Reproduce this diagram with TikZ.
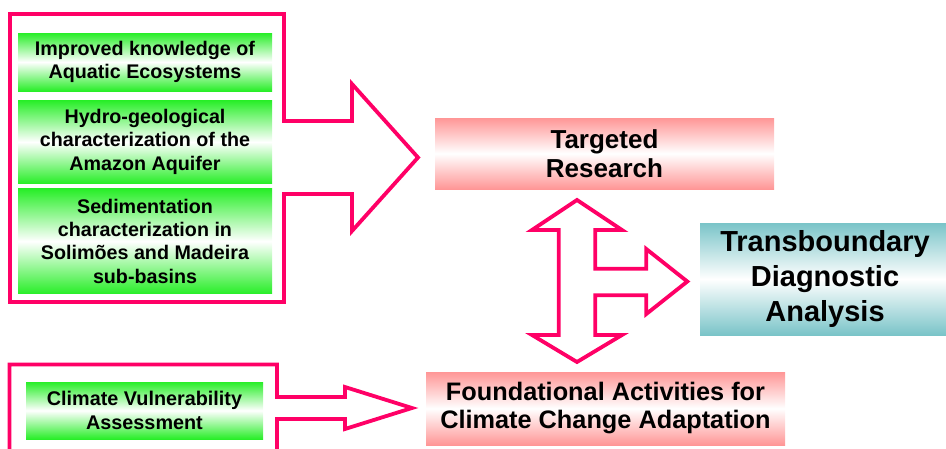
\documentclass[tikz,border=0pt]{standalone}
\usepackage{fontspec}
\setmainfont{Liberation Sans}
\usepackage{xcolor}
\usepackage{tikz}
\usetikzlibrary{positioning}

\definecolor{frameRed}{RGB}{255,0,102}
\definecolor{boxGreen}{RGB}{40,238,40}
\definecolor{boxPink}{RGB}{255,150,150}
\definecolor{boxTeal}{RGB}{122,196,200}

\begin{document}
\begin{tikzpicture}[x=1pt, y=-1pt,
  srcbox/.style={inner sep=0pt, minimum width=254pt, align=center,
    top color=boxGreen, bottom color=boxGreen, middle color=white,
    font=\bfseries\fontsize{19.7}{23.3}\selectfont},
  goalbox/.style={inner sep=0pt, align=center,
    top color=boxPink, bottom color=boxPink, middle color=white},
  tdabox/.style={inner sep=0pt, align=center,
    top color=boxTeal, bottom color=boxTeal, middle color=white,
    font=\bfseries\fontsize{29}{35}\selectfont},
  outl/.style={draw=frameRed, line width=3.8pt, miter limit=20},
]
  \useasboundingbox (0,0) rectangle (946,448);

  % research inputs
  \node[srcbox, minimum height=58pt] (aquatic) at (145,62)
    {Improved knowledge of\\Aquatic Ecosystems};
  \node[srcbox, minimum height=83pt, below=9pt of aquatic] (aquifer)
    {Hydro-geological\\characterization of the\\Amazon Aquifer};
  \node[srcbox, minimum height=105pt, below=5pt of aquifer] (sediment)
    {Sedimentation\\characterization in\\Solimões and Madeira\\sub-basins};

  \node[srcbox, minimum width=237pt, minimum height=57pt,
    font=\bfseries\fontsize{19.8}{24}\selectfont] (climvuln) at (144.5,410.5)
    {Climate Vulnerability\\Assessment};

  % outcomes
  \node[goalbox, minimum width=339pt, minimum height=71pt,
    font=\bfseries\fontsize{26}{29}\selectfont] (research) at (604.5,153.5)
    {Targeted\\Research};
  \node[goalbox, minimum width=359pt, minimum height=73pt,
    font=\bfseries\fontsize{25.3}{28}\selectfont] (found) at (605.5,408.5)
    {Foundational Activities for\\Climate Change Adaptation};
  \node[tdabox, minimum width=250pt, minimum height=112pt] (tda) at (825,279)
    {Transboundary\\Diagnostic\\Analysis};

  % block arrows
  \draw[outl] (10,14) -- (284,14) -- (284,121) -- (352,121) -- (352,84)
    -- (418,157.5) -- (352,231) -- (352,194) -- (284,194) -- (284,302)
    -- (10,302) -- cycle;
  \draw[outl] (9.5,470) -- (9.5,364.5) -- (277,364.5) -- (277,397)
    -- (345,397) -- (345,387) -- (412,408) -- (345,429) -- (345,419)
    -- (277,419) -- (277,470);
  \draw[outl] (577,200) -- (622,230) -- (595.3,230) -- (595.3,268.7)
    -- (646.3,268.7) -- (646.3,249) -- (687.3,281.5) -- (646.3,314)
    -- (646.3,295.3) -- (595.3,295.3) -- (595.3,335) -- (622,335)
    -- (577,362) -- (532,335) -- (558.7,335) -- (558.7,230)
    -- (532,230) -- cycle;
\end{tikzpicture}
\end{document}
